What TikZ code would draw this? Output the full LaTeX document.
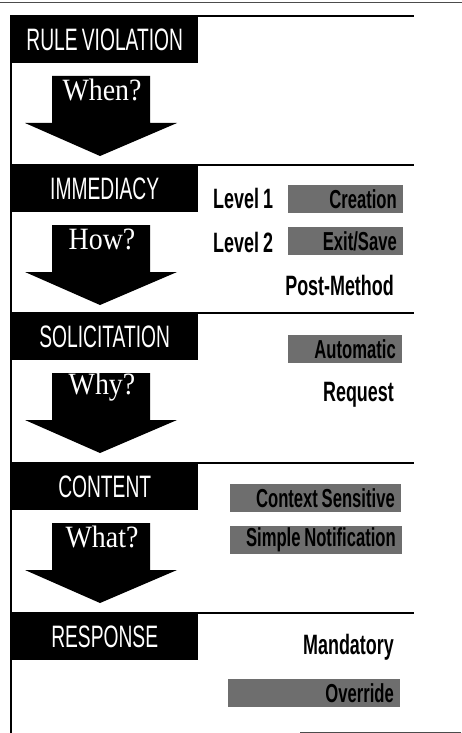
\documentclass[tikz,border=0pt]{standalone}
\usepackage{fontspec}
\newfontfamily\condfont[FakeStretch=0.62,WordSpace={0.8,0,0}]{Liberation Sans}
\newfontfamily\condbold[FakeStretch=0.64,WordSpace={0.8,0,0}]{Liberation Sans Bold}
\newfontfamily\serifont[FakeStretch=0.9]{Liberation Serif}
\begin{document}
\begin{tikzpicture}[x=1pt,y=-1pt,line cap=rect]
\useasboundingbox (0,0) rectangle (461,733);
\definecolor{custcol_0_0_0}{RGB}{0, 0, 0}
\definecolor{custcol_half}{RGB}{110, 110, 110}
\def\halftext#1#2{\makebox[#1pt][r]{#2}}
\tikzset{
  headbox/.style={fill=custcol_0_0_0, text=white, inner sep=0, anchor=north west,
    minimum width=187, minimum height=47, font=\condfont\fontsize{31pt}{31pt}\selectfont},
  asklabel/.style={text=white, inner sep=0, font=\serifont\fontsize{31pt}{31pt}\selectfont},
  levellabel/.style={inner sep=0, font=\condbold\fontsize{28pt}{28pt}\selectfont},
  halfbox/.style={fill=custcol_half, inner xsep=6, inner ysep=0, minimum height=28,
    anchor=east, font=\condbold\fontsize{26pt}{26pt}\selectfont},
  sepline/.style={line width=1.4pt, custcol_0_0_0},
}
% frame
\draw [line width=1.0pt, custcol_0_0_0!70] (0,3) -- (461,3) ;
\draw [sepline] (11,16) -- (11,733) ;
\draw [line width=0.8pt, custcol_0_0_0!70] (300,732) -- (461,732) ;
% sections
\foreach \top/\name/\title in {16/rule/RULE VIOLATION, 165/imm/IMMEDIACY, 313/sol/SOLICITATION, 463/con/CONTENT, 613/resp/RESPONSE}{
  \draw [sepline] (11,\top) -- (413,\top) ;
  \node [headbox] (\name) at (11,\top) {\title};
}
% arrows
\foreach \top/\name/\ask in {16/when/When?, 165/how/How?, 313/why/Why?, 463/what/What?}{
  \fill [custcol_0_0_0] (52,\top+60) -- (150,\top+60) -- (150,\top+107) -- (177,\top+107)
    -- (100,\top+140) -- (25,\top+107) -- (52,\top+107) -- cycle ;
  \node [asklabel] (\name) at (102,\top+74) {\ask};
}
% options
\node [levellabel, anchor=west] (lev1) at (213,198) {Level 1};
\node [levellabel, anchor=west] (lev2) at (213,242) {Level 2};
\node [halfbox] (creation) at (403,199) {\halftext{103}{Creation}};
\node [halfbox] (exitsave) at (403,241) {\halftext{103}{Exit/Save}};
\node [levellabel, anchor=east] (postmethod) at (394,285) {Post-Method};
\node [halfbox] (automatic) at (402,349) {\halftext{102}{Automatic}};
\node [levellabel, anchor=east] (request) at (394,395) {Request};
\node [halfbox] (context) at (401,498) {\halftext{159}{Context Sensitive}};
\node [halfbox] (simple) at (402,540) {\halftext{160}{Simple Notification}};
\node [levellabel, anchor=east] (mandatory) at (394,647) {Mandatory};
\node [halfbox] (override) at (400,693) {\halftext{160}{Override}};
\end{tikzpicture}
\end{document}
